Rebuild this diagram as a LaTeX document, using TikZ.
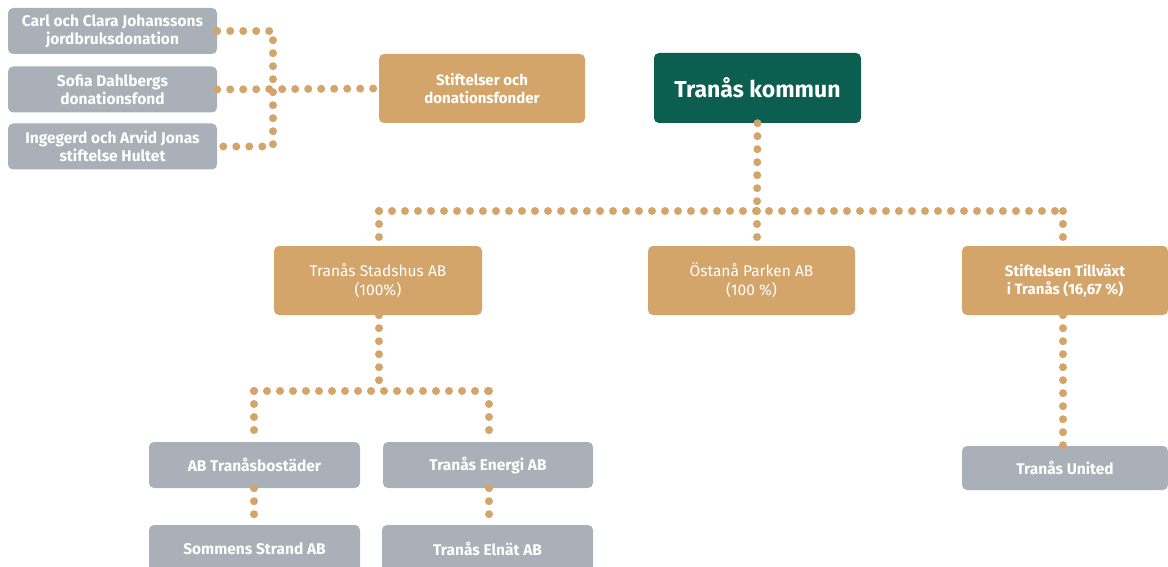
\documentclass[tikz,border=0pt]{standalone}
\usepackage{fontspec}
\setmainfont{Fira Sans}
\begin{document}
\definecolor{tan}{HTML}{D4A56A}
\definecolor{grayb}{HTML}{A9B0B7}
\definecolor{darkgreen}{HTML}{0B5E50}
\begin{tikzpicture}[x=1pt,y=-1pt,
  box/.style={rounded corners=5pt, text=white, align=center, inner sep=0pt, anchor=center},
  graybox/.style={box, fill=grayb, minimum width=209pt, minimum height=46pt, font=\bfseries\fontsize{15.5}{18}\selectfont},
  tanbox/.style={box, fill=tan, minimum width=207pt, minimum height=69pt, font=\fontsize{15.5}{19}\selectfont},
  greenbox/.style={box, fill=darkgreen, minimum width=207pt, minimum height=70pt, font=\bfseries\fontsize{23}{27}\selectfont},
  link/.style={draw=tan, line width=8pt, line cap=round, dash pattern=on 0pt off 13pt}
]
\useasboundingbox (0,0) rectangle (1168,567);
% nodes
\node[graybox] (carl) at (112.5,31) {Carl och Clara Johanssons\\jordbruksdonation};
\node[graybox] (sofia) at (112.5,89.5) {Sofia Dahlbergs\\donationsfond};
\node[graybox] (inge) at (112.5,146.5) {Ingegerd och Arvid Jonas\\stiftelse Hultet};
\node[tanbox, minimum width=206pt, font=\bfseries\fontsize{15}{18}\selectfont] (stift) at (482,88.5) {Stiftelser och\\donationsfonder};
\node[greenbox] (kommun) at (757.5,88) {Tranås kommun};
\node[tanbox, minimum width=208pt] (stad) at (378,280.5) {Tranås Stadshus AB\\(100\%)};
\node[tanbox] (ostana) at (751.5,280.5) {Östanå Parken AB\\(100 \%)};
\node[tanbox, minimum width=206pt, font=\bfseries\fontsize{15}{18}\selectfont] (tillv) at (1065,280.5) {Stiftelsen Tillväxt\\i Tranås (16,67 \%)};
\node[graybox, minimum width=211pt] (bost) at (254.5,465) {AB Tranåsbostäder};
\node[graybox, minimum width=210pt] (energi) at (488,465) {Tranås Energi AB};
\node[graybox, minimum width=211pt, minimum height=48pt] (sommen) at (254.5,549) {Sommens Strand AB};
\node[graybox, minimum width=211pt, minimum height=48pt] (elnat) at (487.5,549) {Tranås Elnät AB};
\node[graybox, minimum width=206pt, minimum height=44pt] (united) at (1065,468) {Tranås United};
% coordinates
\coordinate (lj) at (273,31);
\coordinate (lk) at (273,146.5);
\coordinate (ka) at (757,211);
\coordinate (kl) at (379,211);
\coordinate (kr) at (1063,211);
\coordinate (sa) at (379,391);
\coordinate (sl) at (254,391);
\coordinate (sr) at (489,391);
% connectors
\draw[link] (carl.east) -- (lj) -- (lk) -- (inge.east);
\draw[link] (sofia.east) -- (stift.west);
\draw[link] (kommun.south) -- (ka);
\draw[link] (kl) -- (kr);
\draw[link] (ka) -- (757,246);
\draw[link] (kl) -- (stad.north -| kl);
\draw[link] (kr) -- (tillv.north -| kr);
\draw[link] (stad.south -| sa) -- (sa);
\draw[link] (sl) -- (sr);
\draw[link] (sl) -- (bost.north -| sl);
\draw[link] (sr) -- (energi.north -| sr);
\draw[link] (bost.south -| sl) -- (sommen.north -| sl);
\draw[link] (energi.south -| sr) -- (elnat.north -| sr);
\draw[link] (tillv.south -| kr) -- (united.north -| kr);
\end{tikzpicture}
\end{document}
